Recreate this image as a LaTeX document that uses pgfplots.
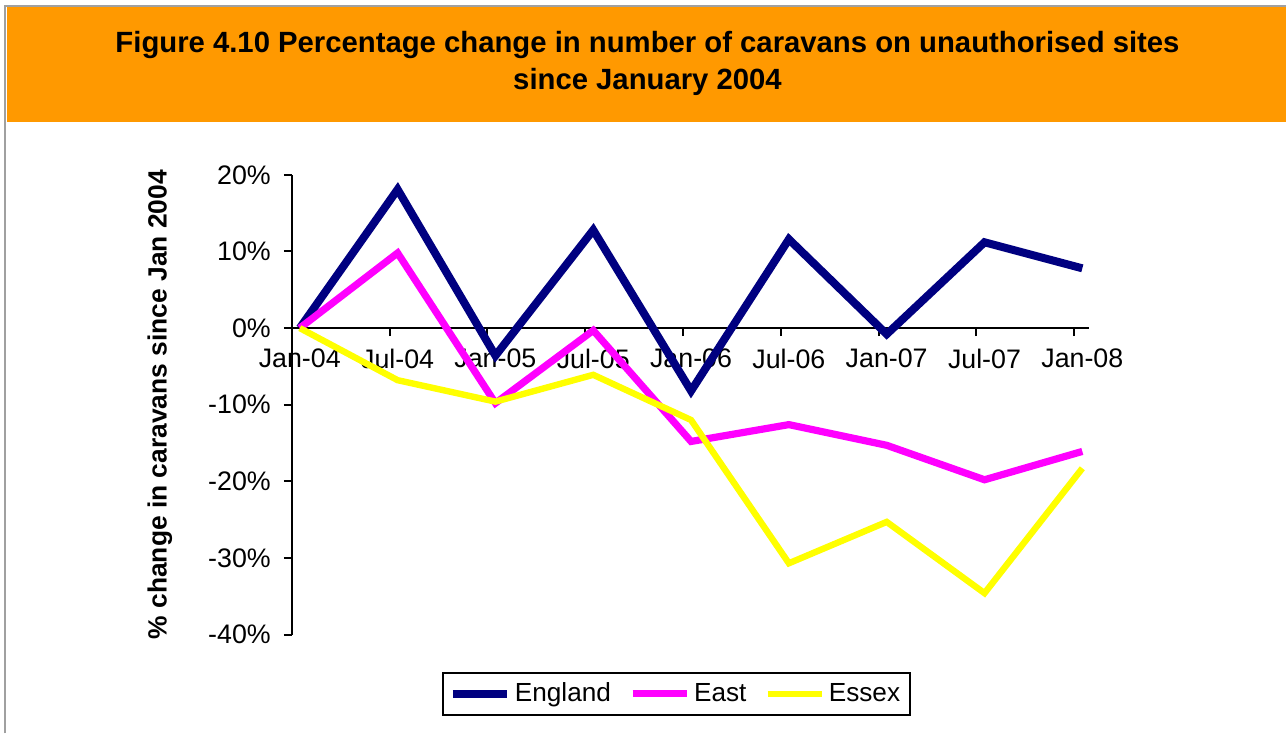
\documentclass[border=0pt]{standalone}
\usepackage{pgfplots}
\pgfplotsset{compat=1.18}
\usepackage{fontspec}
\setmainfont{Liberation Sans}
\definecolor{band}{HTML}{FF9900}
\definecolor{eng}{HTML}{000080}
\definecolor{east}{HTML}{FF00FF}
\definecolor{essex}{HTML}{FFFF00}
\definecolor{frame}{HTML}{A0A0A0}
\begin{document}
\begin{tikzpicture}[x=1pt,y=1pt]
\fill[white] (0,0) rectangle (643.5,367);
\fill[band] (3.5,306) rectangle (643.5,363.5);
\draw[frame,line width=1pt] (2.5,0) -- (2.5,364) -- (643.5,364);
\node[align=center,font=\fontsize{14.65}{18.5}\selectfont\bfseries] at (324,335.5)
  {Figure 4.10 Percentage change in number of caravans on unauthorised sites\\since January 2004};
\node[rotate=90,font=\fontsize{13.2}{15}\selectfont\bfseries] at (80,164.5)
  {\% change in caravans since Jan 2004};
\begin{axis}[
  at={(146pt,49.5pt)}, anchor=south west,
  scale only axis, width=399pt, height=230pt,
  xmin=-0.082, xmax=8.07, ymin=-40, ymax=20,
  axis x line=middle, axis y line=left,
  hide obscured x ticks=false,
  axis line style={-, line width=1pt, black},
  xtick={-0.082,0.918,1.918,2.918,3.918,4.918,5.918,6.918,7.918},
  xticklabels={Jan-04,Jul-04,Jan-05,Jul-05,Jan-06,Jul-06,Jan-07,Jul-07,Jan-08},
  xticklabel style={xshift=4pt, yshift=-3pt},
  yticklabel style={xshift=-3pt},
  ytick={-40,-30,-20,-10,0,10,20},
  yticklabel={\pgfmathprintnumber{\tick}\%},
  /pgf/number format/assume math mode=true,
  tick align=outside, major tick length=4pt,
  tick style={line width=1pt, black},
  ticklabel style={font=\fontsize{13.4}{15}\selectfont},
  clip=false,
  legend columns=3,
  legend style={at={(0.4825,-0.129)}, anchor=center, draw=black, line width=0.8pt,
    font=\fontsize{13.1}{15}\selectfont, /tikz/every even column/.append style={column sep=7pt},
    inner sep=3pt},
  legend image code/.code={\draw[#1] (0pt,0pt) -- (27pt,0pt);},
]
\addplot[eng, line width=4pt] coordinates {(0,0) (1,18.1) (2,-3.6) (3,12.8) (4,-8.2) (5,11.6) (6,-0.8) (7,11.2) (8,7.8)};
\addlegendentry{England}
\addplot[east, line width=3.6pt] coordinates {(0,0) (1,9.8) (2,-9.8) (3,-0.3) (4,-14.8) (5,-12.6) (6,-15.3) (7,-19.8) (8,-16.1)};
\addlegendentry{East}
\addplot[essex, line width=3.2pt] coordinates {(0,0) (1,-6.8) (2,-9.6) (3,-6.1) (4,-12) (5,-30.7) (6,-25.3) (7,-34.6) (8,-18.3)};
\addlegendentry{Essex}
\end{axis}
\end{tikzpicture}
\end{document}
